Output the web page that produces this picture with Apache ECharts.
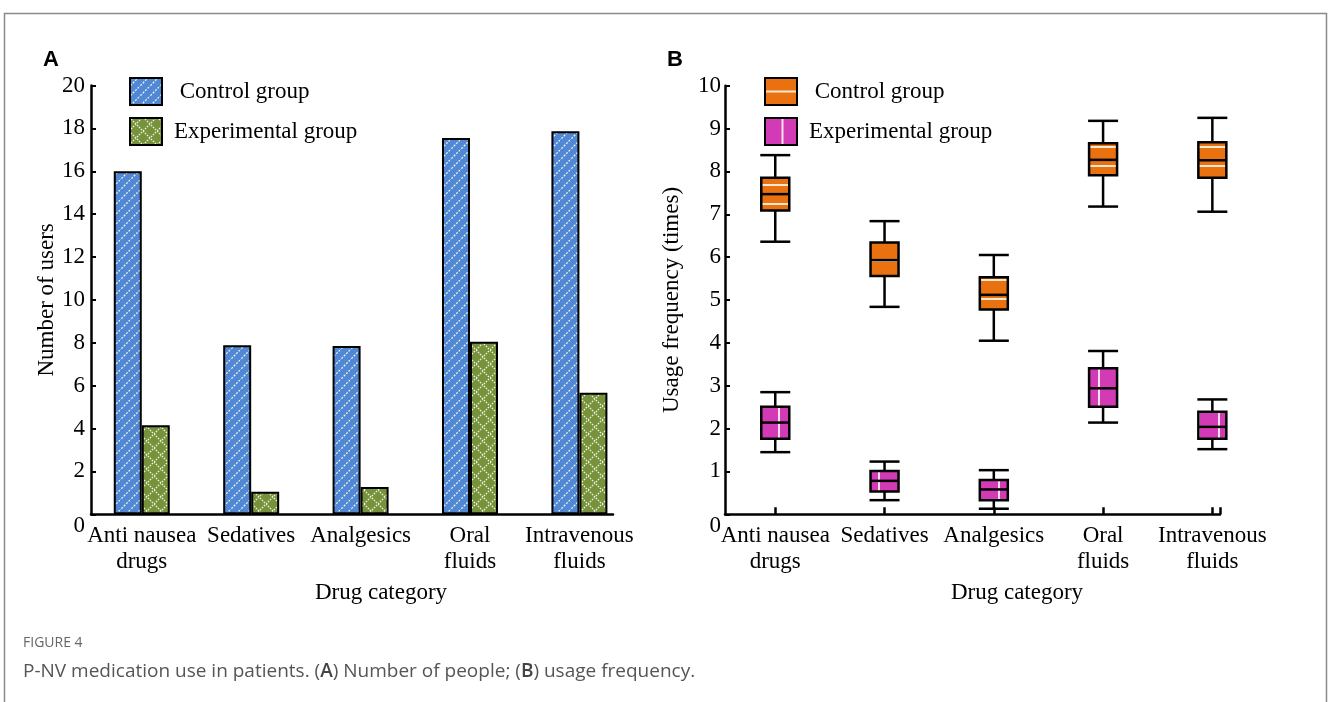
<!DOCTYPE html>
<html><head><meta charset="utf-8">
<script src="https://cdn.jsdelivr.net/npm/echarts@6/dist/echarts.min.js"></script>
<style>html,body{margin:0;padding:0;background:#fff;}#main{width:1328px;height:702px;}</style>
</head><body><div id="main"></div>
<script>
// ---------- data ----------
const categories = ['Anti nausea\ndrugs', 'Sedatives', 'Analgesics', 'Oral\nfluids', 'Intravenous\nfluids'];
const groupNames = ['Control group', 'Experimental group'];
const usersControl = [16.0, 7.88, 7.85, 17.55, 17.87];
const usersExperimental = [4.15, 1.05, 1.27, 8.05, 5.67];
// [min, Q1, median, Q3, max]
const freqControl = [
  [6.36, 7.09, 7.47, 7.85, 8.38],
  [4.84, 5.56, 5.93, 6.34, 6.84],
  [4.05, 4.78, 5.12, 5.53, 6.05],
  [7.18, 7.91, 8.27, 8.66, 9.18],
  [7.06, 7.85, 8.26, 8.68, 9.25]
];
const freqExperimental = [
  [1.45, 1.76, 2.14, 2.51, 2.85],
  [0.33, 0.53, 0.78, 1.01, 1.23],
  [0.13, 0.33, 0.58, 0.80, 1.03],
  [2.14, 2.51, 2.94, 3.41, 3.81],
  [1.52, 1.76, 2.04, 2.39, 2.68]
];
const xAxisTitle = 'Drug category';
const yTitleA = 'Number of users';
const yTitleB = 'Usage frequency (times)';
const captionTitle = 'FIGURE 4';

// ---------- patterns ----------
const SERIF = '"Liberation Serif", "Times New Roman", serif';
const FS = 23;
function mk(w, h) { const c = document.createElement('canvas'); c.width = w; c.height = h; return c; }
function blueTile() {
  const c = mk(10, 10), g = c.getContext('2d');
  g.fillStyle = '#5088D6'; g.fillRect(0, 0, 10, 10);
  g.strokeStyle = '#F2F2E4'; g.lineWidth = 1.3; g.setLineDash([2, 1.4]);
  g.beginPath(); g.moveTo(-1, 11); g.lineTo(11, -1); g.stroke();
  return c;
}
function greenTile() {
  const c = mk(14, 14), g = c.getContext('2d');
  g.fillStyle = '#76933C'; g.fillRect(0, 0, 14, 14);
  g.strokeStyle = '#F2F0E0'; g.lineWidth = 1.3; g.setLineDash([1.6, 1.2]);
  g.beginPath(); g.moveTo(0, 0); g.lineTo(14, 14); g.moveTo(0, 14); g.lineTo(14, 0); g.stroke();
  return c;
}
function orangeTile() {
  const c = mk(4, 19), g = c.getContext('2d');
  g.fillStyle = '#E9710F'; g.fillRect(0, 0, 4, 19);
  g.fillStyle = '#F6E8D2'; g.fillRect(0, 13, 4, 2);
  return c;
}
function pinkTile() {
  const c = mk(20, 4), g = c.getContext('2d');
  g.fillStyle = '#D33BB6'; g.fillRect(0, 0, 20, 4);
  g.fillStyle = '#F8E2EC'; g.fillRect(18, 0, 2, 4);
  return c;
}
const tBlue = blueTile(), tGreen = greenTile(), tOrange = orangeTile(), tPink = pinkTile();

function iconFrom(tile) {
  const c = mk(34, 29), g = c.getContext('2d');
  g.fillStyle = g.createPattern(tile, 'repeat'); g.fillRect(0, 0, 34, 29);
  g.strokeStyle = '#000'; g.lineWidth = 2; g.strokeRect(1, 1, 32, 27);
  return 'image://' + c.toDataURL();
}
const iconBlue = iconFrom(tBlue);
const iconGreen = iconFrom(tGreen);
const iconOrange = (function () {
  const c = mk(34, 29), g = c.getContext('2d');
  g.fillStyle = '#E9710F'; g.fillRect(0, 0, 34, 29);
  g.fillStyle = '#F6E8D2'; g.fillRect(2, 13.5, 30, 2);
  g.strokeStyle = '#000'; g.lineWidth = 2; g.strokeRect(1, 1, 32, 27);
  return 'image://' + c.toDataURL();
})();
const iconPink = (function () {
  const c = mk(34, 29), g = c.getContext('2d');
  g.fillStyle = '#D33BB6'; g.fillRect(0, 0, 34, 29);
  g.fillStyle = '#F8E2EC'; g.fillRect(17.5, 2, 2, 25);
  g.strokeStyle = '#000'; g.lineWidth = 2; g.strokeRect(1, 1, 32, 27);
  return 'image://' + c.toDataURL();
})();

// ---------- render helpers ----------
function boxRenderer(tile) {
  const pat = { image: tile, repeat: 'repeat' };
  return function (params, api) {
    const i = api.value(0);
    const lo = api.coord([i, api.value(1)]);
    const q1 = api.coord([i, api.value(2)]);
    const md = api.coord([i, api.value(3)]);
    const q3 = api.coord([i, api.value(4)]);
    const hi = api.coord([i, api.value(5)]);
    const x = lo[0], bw = 28, cw = 30;
    const ls = { stroke: '#000', lineWidth: 2.5 };
    return {
      type: 'group', children: [
        { type: 'line', shape: { x1: x, y1: hi[1], x2: x, y2: q3[1] }, style: ls },
        { type: 'line', shape: { x1: x, y1: q1[1], x2: x, y2: lo[1] }, style: ls },
        { type: 'line', shape: { x1: x - cw / 2, y1: hi[1], x2: x + cw / 2, y2: hi[1] }, style: ls },
        { type: 'line', shape: { x1: x - cw / 2, y1: lo[1], x2: x + cw / 2, y2: lo[1] }, style: ls },
        { type: 'rect', shape: { x: x - bw / 2, y: q3[1], width: bw, height: q1[1] - q3[1] },
          style: { fill: pat, stroke: '#000', lineWidth: 2.5 } },
        { type: 'line', shape: { x1: x - bw / 2, y1: md[1], x2: x + bw / 2, y2: md[1] }, style: ls }
      ]
    };
  };
}
const catIdx = categories.map((c, i) => i);
const zeroFmt = v => (v === 0 ? '{z|0}' : String(v));
const richZero = { z: { fontFamily: SERIF, fontSize: FS, color: '#000', padding: [24, 0, 0, 0] } };

function yAxis(grid, max, interval, name, gap, margin) {
  return {
    type: 'value', gridIndex: grid, min: 0, max: max, interval: interval,
    axisLine: { show: true, onZero: false, lineStyle: { color: '#000', width: 2.5 } },
    axisTick: { show: true, inside: true, length: 5, lineStyle: { color: '#000', width: 2 } },
    splitLine: { show: false },
    axisLabel: { fontFamily: SERIF, fontSize: FS, color: '#000', margin: margin, formatter: zeroFmt, rich: richZero },
    name: name, nameLocation: 'middle', nameGap: gap,
    nameTextStyle: { fontFamily: SERIF, fontSize: FS, color: '#000' }
  };
}
function xAxis(grid, min, max, tickShow, tickValues, namePad) {
  return {
    type: 'value', gridIndex: grid, min: min, max: max,
    axisLine: { show: true, onZero: false, lineStyle: { color: '#000', width: 2.5 } },
    axisTick: { show: tickShow, inside: true, length: 7, customValues: tickValues, lineStyle: { color: '#000', width: 2.5 } },
    splitLine: { show: false },
    axisLabel: { customValues: catIdx, formatter: v => categories[Math.round(v)], fontFamily: SERIF, fontSize: FS,
      lineHeight: 26, color: '#000', margin: 9 },
    name: xAxisTitle, nameLocation: 'middle', nameGap: 67,
    nameTextStyle: { fontFamily: SERIF, fontSize: FS, color: '#000', padding: [0, 0, 0, namePad] }
  };
}
const legendFmt = n => (n === groupNames[0] ? ' ' + n : n);
function legend(left, icons) {
  return {
    orient: 'vertical', left: left, top: 77, padding: 0, itemWidth: 34, itemHeight: 29, itemGap: 11,
    selectedMode: false, formatter: legendFmt,
    textStyle: { fontFamily: SERIF, fontSize: FS, color: '#000', padding: [3, 0, 0, 6] },
    data: groupNames.map((n, i) => ({ name: n, icon: icons[i] }))
  };
}

const chart = echarts.init(document.getElementById('main'), null, { renderer: 'canvas' });
chart.setOption({
  animation: false,
  backgroundColor: '#fff',
  grid: [
    { left: 91, top: 85.5, width: 522, height: 428.8 },
    { left: 725, top: 85.7, width: 495, height: 428.6 }
  ],
  xAxis: [
    xAxis(0, -0.464, 4.307, false, catIdx, 58),
    xAxis(1, -0.46, 4.07, true, catIdx.concat([4.07]), 89)
  ],
  yAxis: [
    yAxis(0, 20, 2, yTitleA, 28, 6),
    yAxis(1, 10, 1, yTitleB, 42, 4)
  ],
  legend: [legend(129, [iconBlue, iconGreen]), legend(764, [iconOrange, iconPink])],
  series: [
    { name: groupNames[0], type: 'bar', xAxisIndex: 0, yAxisIndex: 0, barWidth: 28, barGap: '0%',
      itemStyle: { color: { image: tBlue, repeat: 'repeat' }, borderColor: '#000', borderWidth: 2 },
      data: usersControl.map((v, i) => [i, v]) },
    { name: groupNames[1], type: 'bar', xAxisIndex: 0, yAxisIndex: 0, barWidth: 28, barGap: '0%',
      itemStyle: { color: { image: tGreen, repeat: 'repeat' }, borderColor: '#000', borderWidth: 2 },
      data: usersExperimental.map((v, i) => [i, v]) },
    { name: groupNames[0], type: 'custom', xAxisIndex: 1, yAxisIndex: 1, renderItem: boxRenderer(tOrange),
      encode: { x: 0, y: [1, 2, 3, 4, 5] }, data: freqControl.map((d, i) => [i].concat(d)) },
    { name: groupNames[1], type: 'custom', xAxisIndex: 1, yAxisIndex: 1, renderItem: boxRenderer(tPink),
      encode: { x: 0, y: [1, 2, 3, 4, 5] }, data: freqExperimental.map((d, i) => [i].concat(d)) }
  ],
  graphic: [
    { type: 'rect', silent: true, shape: { x: 4.5, y: 13.5, width: 1322, height: 720 },
      style: { fill: 'none', stroke: '#8a8a8a', lineWidth: 1.5 } },
    { type: 'text', left: 43, top: 49, style: { text: 'A', font: 'bold 22px "Liberation Sans", Arial, sans-serif', fill: '#000' } },
    { type: 'text', left: 667, top: 49, style: { text: 'B', font: 'bold 22px "Liberation Sans", Arial, sans-serif', fill: '#000' } },
    { type: 'text', left: 23, top: 636, style: { text: captionTitle, font: '14px "Open Sans", sans-serif', fill: '#666' } },
    { type: 'text', left: 23, top: 662, style: {
        text: 'P-NV medication use in patients. ({b|A}) Number of people; ({b|B}) usage frequency.',
        font: '19px "Open Sans", sans-serif', fill: '#555',
        rich: { b: { font: '600 19px "Open Sans", sans-serif', fill: '#444' } } } }
  ]
});
</script></body></html>
